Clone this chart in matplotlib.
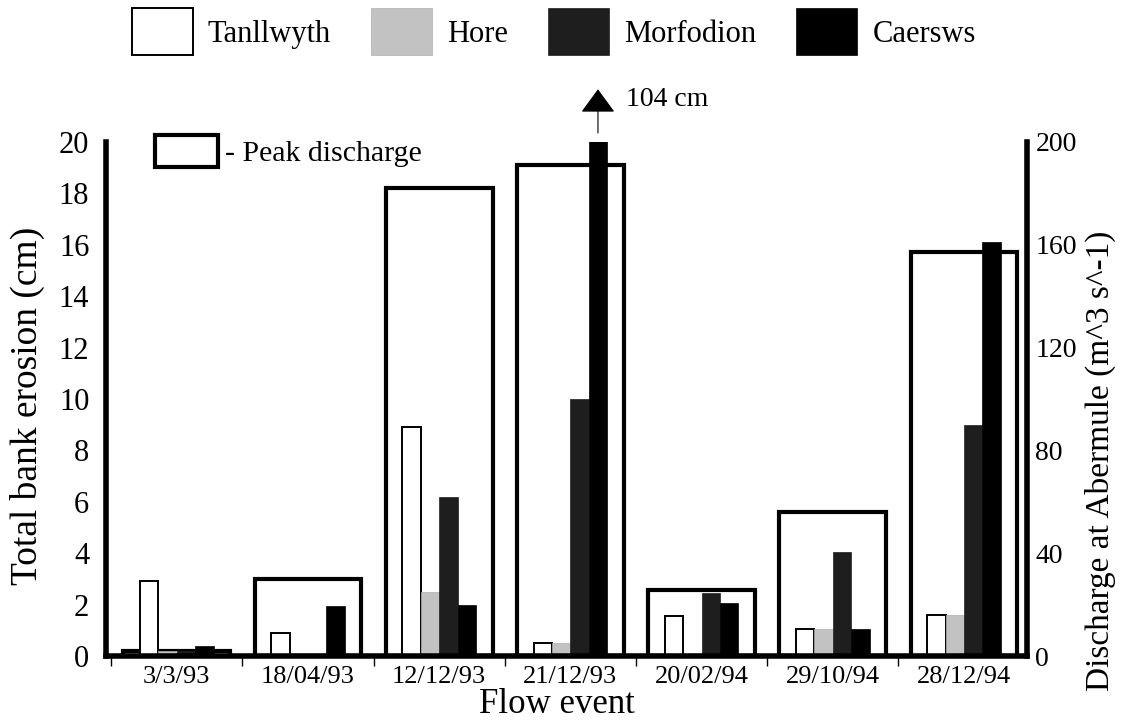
import matplotlib
matplotlib.use('Agg')
import matplotlib.pyplot as plt
import numpy as np

plt.rcParams['font.family'] = ['Liberation Serif', 'DejaVu Serif']

# ----------------------------------------------------------------------
# Data
events = ['3/3/93', '18/04/93', '12/12/93', '21/12/93', '20/02/94', '29/10/94', '28/12/94']
tanllwyth = [2.9, 0.9, 8.9, 0.5, 1.55, 1.05, 1.6]
hore = [0.2, 0.0, 2.5, 0.5, 0.0, 1.05, 1.6]
morfodion = [0.2, 0.0, 6.2, 10.0, 2.45, 4.05, 9.0]
caersws = [0.4, 1.95, 2.0, 104.0, 2.05, 1.05, 16.1]
peak_discharge = [2, 30, 182, 191, 25.5, 56, 157]   # m^3 s^-1 at Abermule
erosion_ticks = [0, 2, 4, 6, 8, 10, 12, 14, 16, 18, 20]
discharge_ticks = [0, 40, 80, 120, 160, 200]
off_scale_label = '104 cm'

x = np.arange(len(events))
w = 0.14

fig = plt.figure(figsize=(11.3, 7.24), dpi=100)
ax = fig.add_axes([0.0938, 0.0939, 0.815, 0.71])
ax2 = ax.twinx()

# ----------------------------------------------------------------------
# Peak discharge boxes (right axis), drawn behind the erosion bars
boxes = ax2.bar(x, peak_discharge, width=0.815, facecolor='white',
                edgecolor='black', linewidth=3)
ax.set_zorder(ax2.get_zorder() + 1)
ax.patch.set_visible(False)

# ----------------------------------------------------------------------
# Bank erosion bars (left axis)
b1 = ax.bar(x - 1.5 * w, tanllwyth, w, facecolor='white', edgecolor='black', linewidth=1.4)
b2 = ax.bar(x - 0.5 * w, hore, w, facecolor='#c2c2c2', edgecolor='#b0b0b0', linewidth=0.5)
b3 = ax.bar(x + 0.5 * w, morfodion, w, facecolor='#1e1e1e', edgecolor='#1e1e1e', linewidth=0.5)
b4 = ax.bar(x + 1.5 * w, caersws, w, facecolor='black', edgecolor='black', linewidth=0.5)

ax.set_xlim(-0.54, 6.48)
ax.set_ylim(0, 20)
ax2.set_ylim(0, 200)

# off-scale marker for Caersws 21/12/93
k = events.index('21/12/93')
ax.annotate('', xy=(x[k] + 1.5 * w, 22.05), xytext=(x[k] + 1.5 * w, 20.35),
            xycoords='data', annotation_clip=False,
            arrowprops=dict(arrowstyle='-|>,head_length=0.75,head_width=0.55',
                            mutation_scale=20, color='black', lw=0.8,
                            shrinkA=0, shrinkB=0))
ax.text(x[k] + 0.42, 21.65, off_scale_label, fontsize=20, va='center', ha='left',
        clip_on=False)

# ----------------------------------------------------------------------
# Axes styling
for side in ['top', 'right']:
    ax.spines[side].set_visible(False)
for side in ['top', 'left', 'bottom']:
    ax2.spines[side].set_visible(False)
ax.spines['left'].set_linewidth(4)
ax.spines['bottom'].set_linewidth(4)
ax2.spines['right'].set_linewidth(4)

ax.set_xticks(x)
ax.set_xticklabels(events, fontsize=19)
ax.set_xticks(x - 0.5, minor=True)
ax.tick_params(axis='x', which='major', length=0, pad=7)
ax.tick_params(axis='x', which='minor', length=7, width=1, direction='out')

ax.set_yticks(erosion_ticks)
ax.tick_params(axis='y', which='both', length=0, pad=12, labelsize=22)
ax2.set_yticks(discharge_ticks)
ax2.tick_params(axis='y', which='both', length=0, pad=6, labelsize=20)

ax.set_xlabel('Flow event', fontsize=25)
ax.xaxis.set_label_coords(0.49, -0.063)
ax.set_ylabel('Total bank erosion (cm)', fontsize=27)
ax.yaxis.set_label_coords(-0.066, 0.486)
ax2.set_ylabel('Discharge at Abermule (m^3 s^-1)', fontsize=24)
ax2.yaxis.set_label_coords(1.063, 0.379)

# ----------------------------------------------------------------------
# Legends
ax.legend([boxes], ['- Peak discharge'], loc='upper left', bbox_to_anchor=(0.053, 1.014),
          frameon=False, borderpad=0, borderaxespad=0, fontsize=21.5,
          handlelength=2.1, handleheight=1.3, handletextpad=0.25)

fig.legend([b1, b2, b3, b4], ['Tanllwyth', 'Hore', 'Morfodion', 'Caersws'],
           loc='center', bbox_to_anchor=(0.49, 0.956), ncol=4, frameon=False,
           fontsize=22, handlelength=2.0, handleheight=2.0, handletextpad=0.5,
           columnspacing=1.3)

plt.savefig('out.png', dpi=100)
